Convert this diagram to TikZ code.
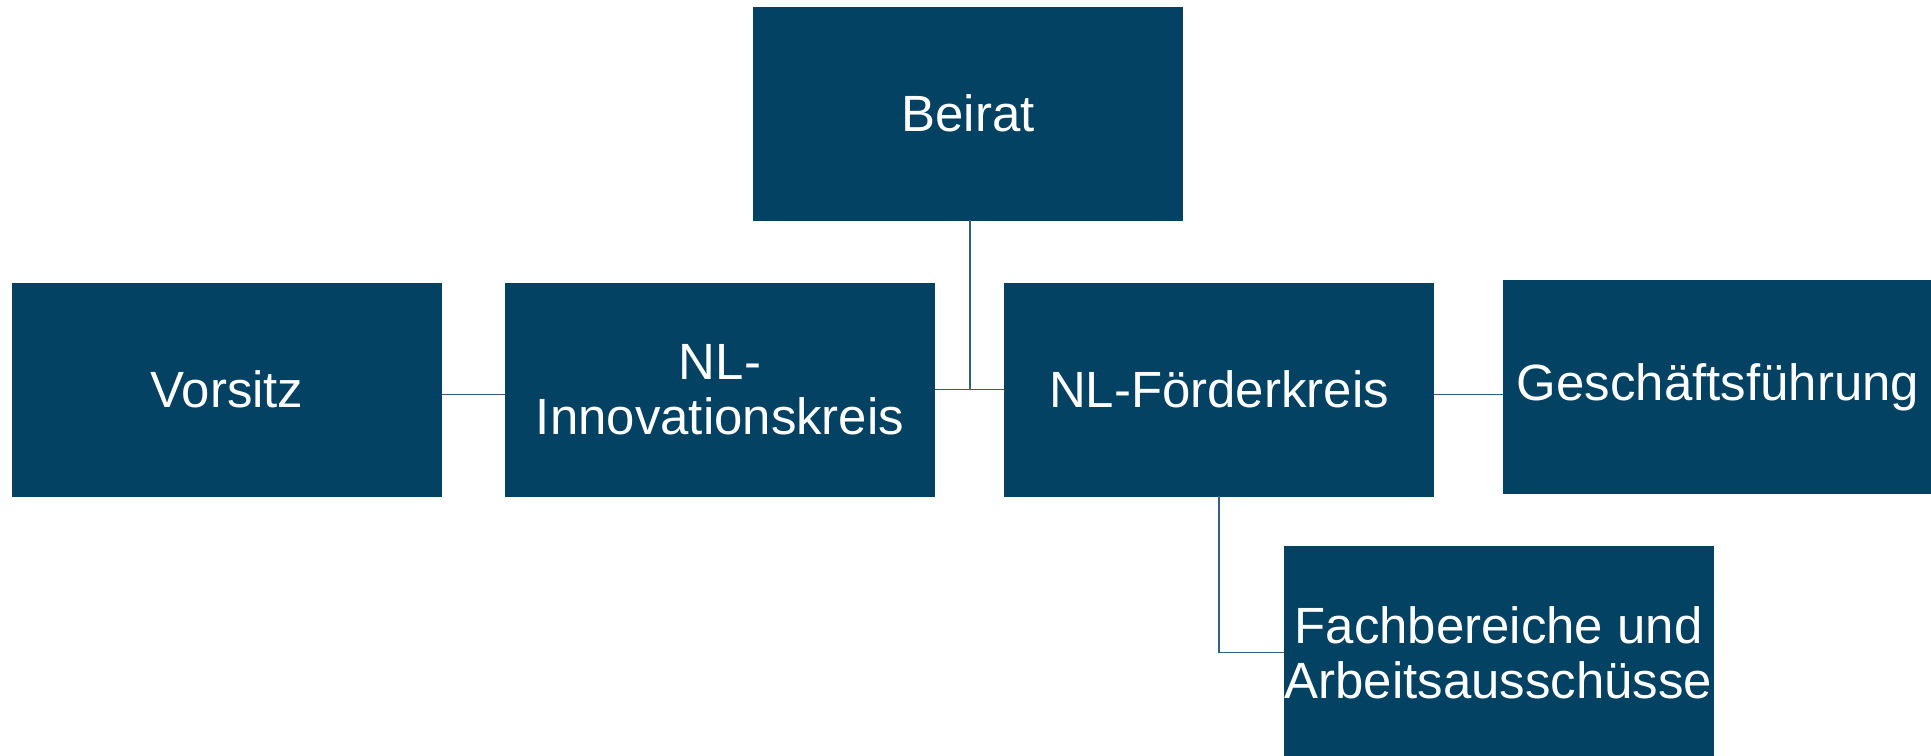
\documentclass[tikz,border=0pt]{standalone}
\usepackage{fontspec}
\setmainfont{Liberation Sans}
\usepackage{tikz}
\definecolor{boxblue}{RGB}{3,66,99}
\definecolor{lineblue}{RGB}{52,95,128}

\begin{document}
\begin{tikzpicture}[x=0.02cm,y=-0.02cm]
	\tikzstyle{unit}=[rectangle,fill=boxblue,draw=boxblue,text=white,minimum width=8.58cm,minimum height=4.26cm,inner sep=0pt,align=center,font=\fontsize{29}{31.5}\selectfont]
	\tikzstyle{link}=[draw=lineblue,line width=0.6pt]
	\useasboundingbox (0,0) rectangle (1931,755);
	\clip (0,0) rectangle (1931,755);
	\node[unit] (beirat) at (968,113.5) {Beirat};
	\node[unit] (vorsitz) at (227,389.5) {Vorsitz};
	\node[unit] (innov) at (720,389.5) {NL-\\Innovationskreis};
	\node[unit] (foerder) at (1219,389.5) {NL-Förderkreis};
	\node[unit] (gf) at (1718,387) {Geschäftsführung};
	\node[unit] (fach) at (1498.5,652.5) {Fachbereiche und\\Arbeitsausschüsse};
	\draw[link] (innov.east) -- (foerder.west);
	\draw[link] ([xshift=0.04cm]beirat.south) -- ([xshift=0.04cm]beirat.south |- foerder.west);
	\draw[link] ([yshift=-0.1cm]vorsitz.east) -- ([yshift=-0.1cm]innov.west);
	\draw[link] ([yshift=-0.1cm]foerder.east) -- ([yshift=-0.1cm]foerder.east -| gf.west);
	\draw[link] (foerder.south) |- (fach.west);
\end{tikzpicture}
\end{document}
